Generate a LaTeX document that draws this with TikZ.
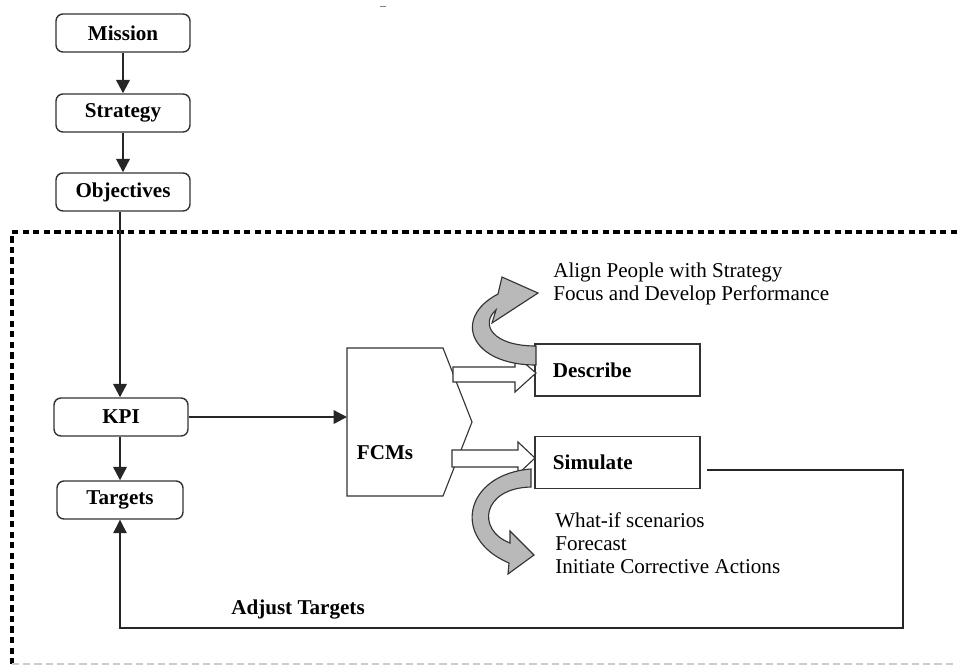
\documentclass[tikz,border=0pt]{standalone}
\usepackage{fontspec}
\setmainfont{Liberation Serif}
\usetikzlibrary{arrows.meta}

\begin{document}
\begin{tikzpicture}[x=0.025cm, y=-0.025cm,
  every node/.style={font=\fontsize{15}{17}\selectfont},
  stage box/.style={draw=black!80, line width=1pt, rounded corners=5pt,
                    minimum width=3.35cm, minimum height=0.95cm, inner sep=0pt,
                    font=\fontsize{15}{17}\selectfont\bfseries},
  act box/.style={draw=black!80, line width=0.8pt, minimum height=1.3cm,
                  text width=3.225cm, inner xsep=0.45cm, align=left,
                  font=\fontsize{15}{17}\selectfont\bfseries},
  flow/.style={draw=black!85, line width=1.6pt, -{Triangle[width=9.5pt,length=9.5pt]}},
  hollow/.style={draw=black!80, line width=0.8pt, fill=white},
  twist/.style={draw=black!80, line width=0.8pt, fill=gray!55},
  note/.style={align=left, anchor=west, inner sep=0pt, font=\fontsize{15}{16.5}\selectfont}]
\useasboundingbox (0,0) rectangle (957,666);

% dashed frame
\draw[line width=2.6pt, dash pattern=on 4.5pt off 3pt] (957,232) -- (12,232) -- (12,664);
\draw[gray!40, line width=1pt, dash pattern=on 5pt off 3pt] (12,664) -- (957,664);
\draw[gray, line width=0.6pt] (380,6) -- (386,6);

% left column
\node[stage box] (mission) at (123,33) {Mission};
\node[stage box] (strategy) at (123,113) {Strategy};
\node[stage box] (objectives) at (123,192) {Objectives};
\node[stage box] (kpi) at (121,417) {KPI};
\node[stage box, minimum width=3.15cm] (targets) at (120,500) {Targets};

\draw[flow] (mission) -- (strategy);
\draw[flow] (strategy) -- (objectives);
\draw[flow] (objectives.south -| targets) -- (kpi.north -| targets);
\draw[flow] (kpi.south -| targets) -- (targets.north);

% FCMs block
\draw[draw=black!80, line width=0.8pt] (347,348) -- (443,348) -- (472,422) -- (443,496) -- (347,496) -- cycle;
\node (fcm) at (385,453) {\bfseries FCMs};
\coordinate (fcm in) at (347,415);
\draw[flow] (kpi.east) -- (kpi.east -| fcm in);

% outputs
\node[act box] (describe) at (617.5,370) {Describe};
\node[act box] (simulate) at (617.5,462.5) {Simulate};

\draw[hollow] (453,367) -- (515,367) -- (515,355) -- (536,373) -- (515,392) -- (515,382) -- (453,382) -- cycle;
\draw[hollow] (452,450) -- (518,450) -- (518,442) -- (535,458) -- (518,474) -- (518,467) -- (452,467) -- cycle;

% curled arrows
\draw[twist] (536,365) .. controls (470,365) and (452,318) .. (498,294) -- (502,277) -- (538,293)
  -- (492,323) -- (496,310) .. controls (480,324) and (492,346) .. (536,346) -- cycle;
\draw[twist] (531,469) .. controls (465,474) and (450,538) .. (509,563) -- (508,574) -- (534,555)
  -- (510,531) -- (510,543) .. controls (476,530) and (482,488) .. (531,487) -- cycle;

\node[note] (align) at (553,284) {Align People with Strategy\\Focus and Develop Performance};
\node[note] (whatif) at (555,543) {What-if scenarios\\Forecast\\Initiate Corrective Actions};

% feedback loop
\coordinate (sim out) at (707,470);
\draw[flow, line width=1pt] (sim out) -| (903,628) -| (targets.south);
\node (adjust) at (298,609) {\bfseries Adjust Targets};
\end{tikzpicture}
\end{document}
